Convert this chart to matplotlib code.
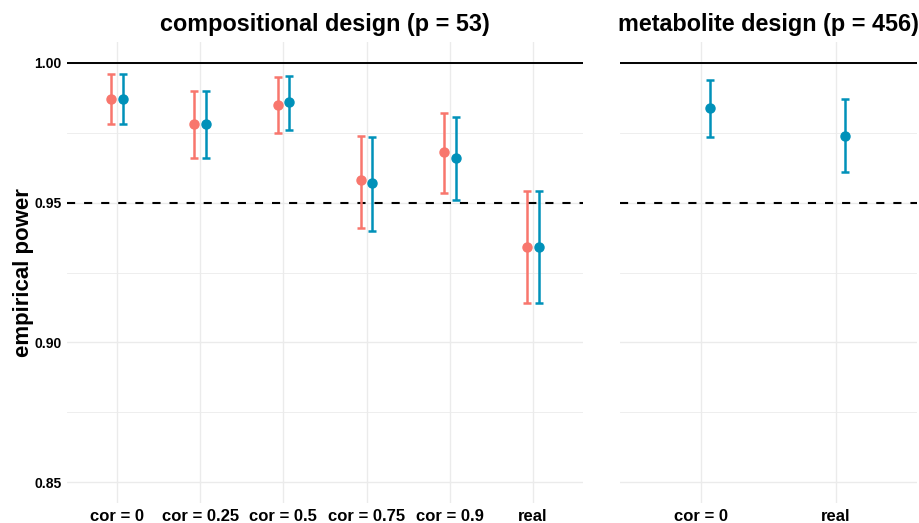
import numpy as np
import matplotlib.pyplot as plt

plt.rcParams['font.family'] = ['Liberation Sans', 'DejaVu Sans']
plt.rcParams['font.weight'] = 'bold'

# compositional design, two estimators per setting
comp_cats = ['cor = 0', 'cor = 0.25', 'cor = 0.5', 'cor = 0.75', 'cor = 0.9', 'real']
comp_a_est = [0.987, 0.978, 0.985, 0.958, 0.968, 0.934]
comp_a_lo = [0.978, 0.966, 0.975, 0.941, 0.9535, 0.914]
comp_a_hi = [0.996, 0.990, 0.995, 0.974, 0.982, 0.954]
comp_b_est = [0.987, 0.978, 0.986, 0.957, 0.966, 0.934]
comp_b_lo = [0.978, 0.966, 0.976, 0.940, 0.951, 0.914]
comp_b_hi = [0.996, 0.990, 0.9955, 0.9735, 0.9805, 0.954]

# metabolite design, only second estimator
met_cats = ['cor = 0', 'real']
met_b_est = [0.984, 0.974]
met_b_lo = [0.9735, 0.961]
met_b_hi = [0.994, 0.987]

red = '#F8766D'
teal = '#0091B9'
grid_col = '#EBEBEB'
dodge = 0.07

fig = plt.figure(figsize=(9.2, 5.23), dpi=100)
ax1 = fig.add_axes([0.0728, 0.0382, 0.5609, 0.8815])
ax2 = fig.add_axes([0.6739, 0.0382, 0.3228, 0.8815])


def setup(ax, cats, title):
    n = len(cats)
    ax.set_xlim(0.4, n + 0.6)
    ax.set_ylim(0.8425, 1.0075)
    ax.set_xticks(np.arange(1, n + 1))
    ax.set_xticklabels(cats, fontsize=12, fontweight='bold')
    ax.set_yticks([0.85, 0.90, 0.95, 1.00])
    ax.set_yticks([0.875, 0.925, 0.975], minor=True)
    ax.grid(True, which='major', color=grid_col, lw=1.0, zorder=0)
    ax.grid(True, which='minor', axis='y', color=grid_col, lw=0.6, zorder=0)
    ax.tick_params(length=0, pad=4)
    ax.tick_params(which='minor', length=0)
    ax.set_axisbelow(True)
    for s in ax.spines.values():
        s.set_visible(False)
    ax.axhline(1.0, color='black', lw=1.4, zorder=1)
    ax.axhline(0.95, color='black', lw=1.5, ls=(0, (3.9, 4.3)), zorder=1)
    ax.set_title(title, fontsize=16.8, fontweight='bold', pad=8)


def bars(ax, x, est, lo, hi, col):
    est = np.array(est)
    yerr = [est - np.array(lo), np.array(hi) - est]
    ax.errorbar(x, est, yerr=yerr, fmt='o', color=col, ms=6.5, elinewidth=1.8,
                capsize=2.8, capthick=1.8, zorder=3)


setup(ax1, comp_cats, 'compositional design (p = 53)')
setup(ax2, met_cats, 'metabolite design (p = 456)')

x1 = np.arange(1, len(comp_cats) + 1)
bars(ax1, x1 - dodge, comp_a_est, comp_a_lo, comp_a_hi, red)
bars(ax1, x1 + dodge, comp_b_est, comp_b_lo, comp_b_hi, teal)

x2 = np.arange(1, len(met_cats) + 1)
bars(ax2, x2 + dodge, met_b_est, met_b_lo, met_b_hi, teal)

ax1.set_yticklabels(['0.85', '0.90', '0.95', '1.00'], fontsize=10, fontweight='bold')
ax2.set_yticklabels([])
ax1.set_ylabel('empirical power', fontsize=16, fontweight='bold', labelpad=0)

fig.savefig('out.png', dpi=100)
